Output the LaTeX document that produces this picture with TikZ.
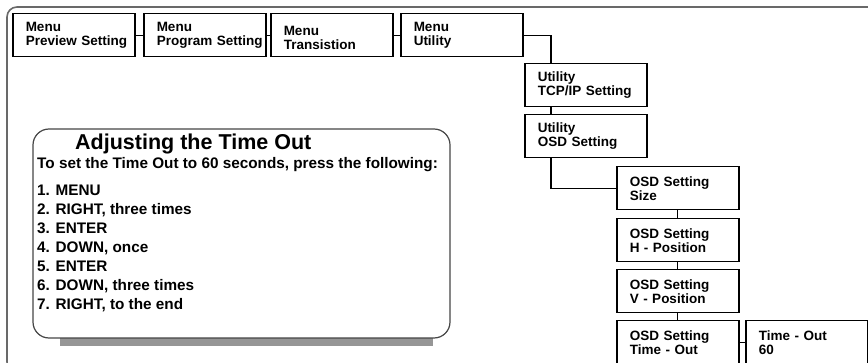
\documentclass[tikz,border=0pt]{standalone}
\usepackage{fontspec}
\setmainfont{Liberation Sans}
\usetikzlibrary{positioning}
\hyphenpenalty=10000
\exhyphenpenalty=10000
\hfuzz=20pt
\definecolor{framegrey}{RGB}{105,105,105}
\definecolor{shadowgrey}{RGB}{150,150,150}
\definecolor{panelline}{RGB}{70,70,70}
\tikzset{
  menubox/.style  ={draw=black, line width=1.5pt, fill=white, anchor=north west, align=left,
                    text width=96pt, inner xsep=13pt, inner ysep=0pt, minimum height=43pt,
                    font=\fontsize{13.5}{14}\selectfont\bfseries},
  link/.style     ={draw=black, line width=1.3pt},
  titletext/.style={anchor=base west, inner sep=0pt, font=\fontsize{21.5}{24}\selectfont\bfseries},
  steptext/.style ={anchor=base west, inner sep=0pt, font=\fontsize{15.3}{17}\selectfont\bfseries},
}

\begin{document}
\begin{tikzpicture}[x=1pt,y=-1pt]
\useasboundingbox (0,0) rectangle (868,363);
% outer frame
\begin{scope}
  \clip (0,0) rectangle (868,363);
  \draw[framegrey, line width=1.6pt, rounded corners=10pt] (7,7) rectangle (900,372);
\end{scope}

% menu row
\node[menubox] (mprev) at (12,13)  {Menu\\Preview~Setting};
\node[menubox] (mprog) at (143,13) {Menu\\Program~Setting};
\node[menubox] (mtran) at (270,13) {\rule{0pt}{15pt}Menu\\Transistion};
\node[menubox] (mutil) at (400,13) {Menu\\Utility};
\draw[link] (mprev) -- (mprog);
\draw[link] (mprog) -- (mtran);
\draw[link] (mtran) -- (mutil);

% utility branch
\node[menubox] (tcpip)  at (524,63)  {Utility\\TCP/IP Setting};
\node[menubox] (osdset) at (524,114) {Utility\\OSD Setting};
\draw[link] (mutil.east) -| ([xshift=27pt]tcpip.north west);
\draw[link] ([xshift=27pt]tcpip.south west) -- ([xshift=27pt]osdset.north west);

% osd branch
\node[menubox] (osdsize) at (616,166) {OSD Setting\\Size};
\node[menubox] (osdhpos) at (616,218) {OSD Setting\\H - Position};
\node[menubox] (osdvpos) at (616,269) {OSD Setting\\V - Position};
\node[menubox] (osdtime) at (616,320) {OSD Setting\\Time - Out};
\node[menubox] (timeval) at (745,320) {Time - Out\\60};
\draw[link] ([xshift=27pt]osdset.south west) |- (osdsize.west);
\draw[link] (osdsize) -- (osdhpos);
\draw[link] (osdhpos) -- (osdvpos);
\draw[link] (osdvpos) -- (osdtime);
\draw[link] (osdtime) -- (timeval);

% instruction panel
\fill[shadowgrey] (60,330) rectangle (433,346);
\draw[panelline, line width=1.2pt, fill=white, rounded corners=16pt] (33,129) rectangle (450,338);
\node[titletext] (ptitle) at (75,150) {Adjusting the Time Out};
\node[steptext] (pintro) at (37,169) {To set the Time Out to 60 seconds, press the following:};
\foreach \i/\txt in {1/MENU, 2/{RIGHT, three times}, 3/ENTER, 4/{DOWN, once},
                     5/ENTER, 6/{DOWN, three times}, 7/{RIGHT, to the end}}
  \node[steptext] (pstep\i) at (37,177+19*\i) {\i. \txt};
\end{tikzpicture}
\end{document}
